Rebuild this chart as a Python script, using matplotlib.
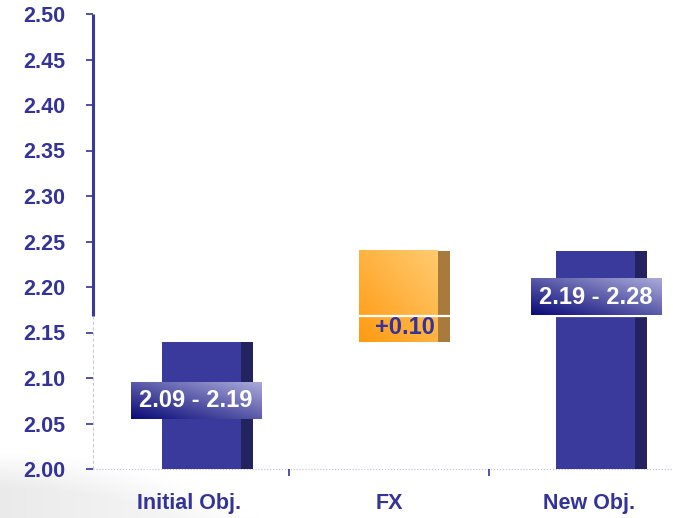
import numpy as np
import matplotlib
matplotlib.use('Agg')
import matplotlib.pyplot as plt
from matplotlib.colors import LinearSegmentedColormap

categories = ['Initial Obj.', 'FX', 'New Obj.']
initial_range = [2.09, 2.19]
fx_change = 0.10
new_range = [2.19, 2.28]
y_ticks = [2.00, 2.05, 2.10, 2.15, 2.20, 2.25, 2.30, 2.35, 2.40, 2.45, 2.50]

TEXT = '#333399'
BLUE = '#3A3A9C'
BLUE_SIDE = '#23235F'
ORANGE_SIDE = '#A87A3C'

plt.rcParams['font.family'] = ['Liberation Sans', 'DejaVu Sans']
plt.rcParams['font.weight'] = 'bold'


def gradient_rect(ax, x0, y0, w, h, c0, c1, zorder):
    """Rectangle filled with a diagonal gradient, c0 bottom-left to c1 top-right."""
    cmap = LinearSegmentedColormap.from_list('grad', [c0, c1])
    u = np.linspace(0, 1, 64)
    grid = (u[None, :] + u[:, None]) / 2
    ax.imshow(grid, cmap=cmap, extent=(x0, x0 + w, y0, y0 + h), origin='lower',
              aspect='auto', zorder=zorder, interpolation='bilinear')


# waterfall: start at the midpoint of the initial range, add the FX effect
start = (initial_range[0] + initial_range[1]) / 2
end = start + fx_change
bottoms = [2.00, start, 2.00]
tops = [start, end, end]

fig = plt.figure(figsize=(6.73, 5.18), dpi=100)

# faint grey swoosh in the lower left corner
bg = fig.add_axes([0, 0, 1, 1], zorder=-1)
bg.axis('off')
H, W = 518, 673
yy, xx = np.mgrid[0:H, 0:W]
curve = 452 + 0.00095 * xx ** 2
alpha = np.clip((yy - curve) / 35, 0, 1) * np.clip(1 - xx / 340, 0, 1) * 0.45
img = np.zeros((H, W, 4))
img[..., :3] = 0.82
img[..., 3] = alpha
bg.imshow(img, extent=(0, W, H, 0), aspect='auto')
bg.set_xlim(0, W)
bg.set_ylim(H, 0)

ax = fig.add_axes([93 / 673, 1 - 469 / 518, 1 - 93 / 673, 455 / 518])
ax.set_facecolor('none')
xl, xr = -0.48, 2.42

# bars sit a little right of their category slot
offsets = [0.092, 0.077, 0.064]
width, side = 0.455, 0.06
for i in range(len(categories)):
    x0 = i + offsets[i] - width / 2
    h = tops[i] - bottoms[i]
    if i == 1:
        gradient_rect(ax, x0, bottoms[i], width - side, h, '#FF9A12', '#FFCB70', 2)
        ax.bar(x0 + width - side, h, bottom=bottoms[i], width=side, align='edge',
               color=ORANGE_SIDE, zorder=2)
    else:
        ax.bar(x0, h, bottom=bottoms[i], width=width - side, align='edge',
               color=BLUE, zorder=2)
        ax.bar(x0 + width - side, h, bottom=bottoms[i], width=side, align='edge',
               color=BLUE_SIDE, zorder=2)

# axis break
ax.axhline(2.168, color='white', lw=1.6, zorder=3)

# range labels on the objective bars
ranges = {0: initial_range, 2: new_range}
label_y = {0: 2.075, 2: 2.189}
for i, (lo, hi) in ranges.items():
    gradient_rect(ax, i - 0.29, label_y[i] - 0.02, 0.655, 0.04, '#0A0A78', '#AAAADA', 4)
    ax.text(i + 0.035, label_y[i], f'{lo:.2f} - {hi:.2f}', color='white',
            fontsize=17, ha='center', va='center', zorder=5)

ax.text(1 + 0.08, 2.156, f'+{fx_change:.2f}', color=TEXT, fontsize=17,
        ha='center', va='center', zorder=5)

# axes lines
for s in ax.spines.values():
    s.set_visible(False)
ax.plot([xl, xl], [2.168, 2.50], color=BLUE, lw=2.2, solid_capstyle='butt',
        clip_on=False, zorder=6)
ax.plot([xl, xl], [2.00, 2.168], color='#C8C8E4', lw=0.8, ls=(0, (3, 2)),
        clip_on=False, zorder=1)
ax.plot([xl, xr], [2.00, 2.00], color='#C0C0DC', lw=0.8, ls=':',
        clip_on=False, zorder=1)

ax.set_xlim(xl, xr)
ax.set_ylim(2.00, 2.50)
ax.set_yticks(y_ticks)
ax.set_yticklabels([f'{v:.2f}' for v in y_ticks])
ax.tick_params(axis='y', length=5, width=1.2, color=TEXT, pad=15,
               labelsize=15.5, labelcolor=TEXT)
ax.set_xticks(range(len(categories)))
ax.set_xticklabels(categories)
ax.set_xticks([0.5, 1.5], minor=True)
ax.tick_params(axis='x', which='major', length=0, pad=17, labelsize=15.5,
               labelcolor=TEXT)
ax.tick_params(axis='x', which='minor', length=5, width=1.2, color=TEXT)

fig.savefig('out.png', dpi=100)
